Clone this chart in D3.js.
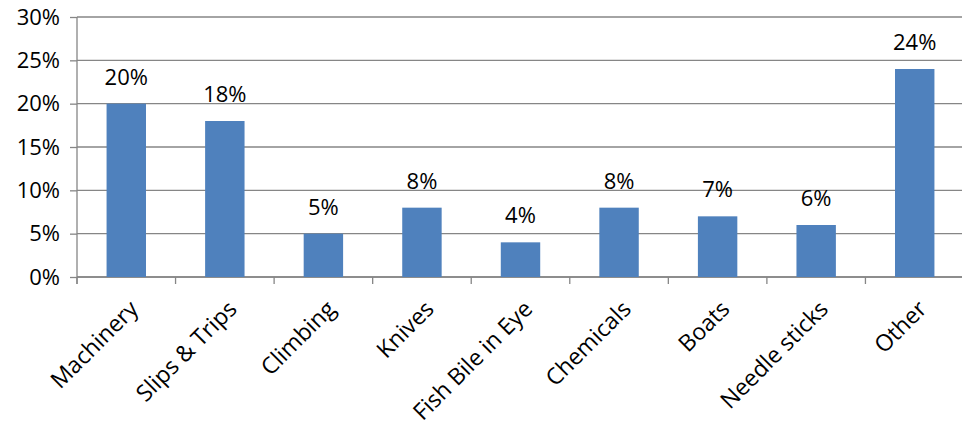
<!DOCTYPE html>
<html>
<head>
<meta charset="utf-8">
<script src="https://cdn.jsdelivr.net/npm/d3@7"></script>
<style>
  body { margin: 0; background: #fff; }
  svg text { font-family: "Open Sans", sans-serif; fill: #000; }
</style>
</head>
<body>
<svg id="chart" width="962" height="426"></svg>
<script>
// data
const categories = ["Machinery", "Slips & Trips", "Climbing", "Knives", "Fish Bile in Eye",
                    "Chemicals", "Boats", "Needle sticks", "Other"];
const values = [0.20, 0.18, 0.05, 0.08, 0.04, 0.08, 0.07, 0.06, 0.24];
const yTicks = [0, 0.05, 0.10, 0.15, 0.20, 0.25, 0.30];

const svg = d3.select("#chart"),
      margin = { top: 17, right: -2, bottom: 149, left: 77 },
      width = +svg.attr("width") - margin.left - margin.right,
      height = +svg.attr("height") - margin.top - margin.bottom,
      chart = svg.append("g").attr("transform", `translate(${margin.left},${margin.top})`);

const gridColor = "#868686";
const fmt = d3.format(".0%");

const x = d3.scaleBand()
  .domain(categories)
  .range([0, width])
  .paddingInner(0.6)
  .paddingOuter(0.3);

const y = d3.scaleLinear()
  .domain([0, 0.30])
  .range([height, 0]);

// gridlines
chart.append("g")
  .selectAll("line")
  .data(yTicks)
  .join("line")
  .attr("x1", 0)
  .attr("x2", width)
  .attr("y1", d => y(d))
  .attr("y2", d => y(d))
  .attr("stroke", gridColor)
  .attr("stroke-width", 1.3);

// y axis
const yAxis = chart.append("g")
  .call(d3.axisLeft(y).tickValues(yTicks).tickFormat(fmt).tickSize(7).tickPadding(10));
yAxis.selectAll("line, path").attr("stroke", gridColor).attr("stroke-width", 1.3);
yAxis.select(".domain").attr("d", `M0,0V${height + 7}`);
yAxis.selectAll("text")
  .attr("font-size", "22px")
  .attr("font-family", "Open Sans, sans-serif")
  .attr("fill", "#000");

// x axis: ticks sit between categories
const step = x.step();
const xAxis = chart.append("g").attr("transform", `translate(0,${height})`);
xAxis.append("line")
  .attr("x1", 0).attr("x2", width)
  .attr("stroke", gridColor).attr("stroke-width", 1.3);
xAxis.selectAll(".tick")
  .data(d3.range(categories.length + 1))
  .join("line")
  .attr("class", "tick")
  .attr("x1", i => i * step)
  .attr("x2", i => i * step)
  .attr("y1", 0)
  .attr("y2", 7)
  .attr("stroke", gridColor)
  .attr("stroke-width", 1.3);

xAxis.selectAll(".lbl")
  .data(categories)
  .join("text")
  .attr("class", "lbl")
  .attr("transform", d => `translate(${x(d) + x.bandwidth() / 2 + 2},${22}) rotate(-45)`)
  .attr("text-anchor", "end")
  .attr("dy", "0.7em")
  .attr("font-size", "23px")
  .text(d => d);

// bars
chart.selectAll(".bar")
  .data(values)
  .join("rect")
  .attr("class", "bar")
  .attr("x", (d, i) => x(categories[i]))
  .attr("y", d => y(d))
  .attr("width", x.bandwidth())
  .attr("height", d => height - y(d))
  .attr("fill", "#4F81BD");

// value labels
chart.selectAll(".val")
  .data(values)
  .join("text")
  .attr("class", "val")
  .attr("x", (d, i) => x(categories[i]) + x.bandwidth() / 2)
  .attr("y", d => y(d) - 19)
  .attr("text-anchor", "middle")
  .attr("font-size", "22px")
  .text(d => fmt(d));
</script>
</body>
</html>
